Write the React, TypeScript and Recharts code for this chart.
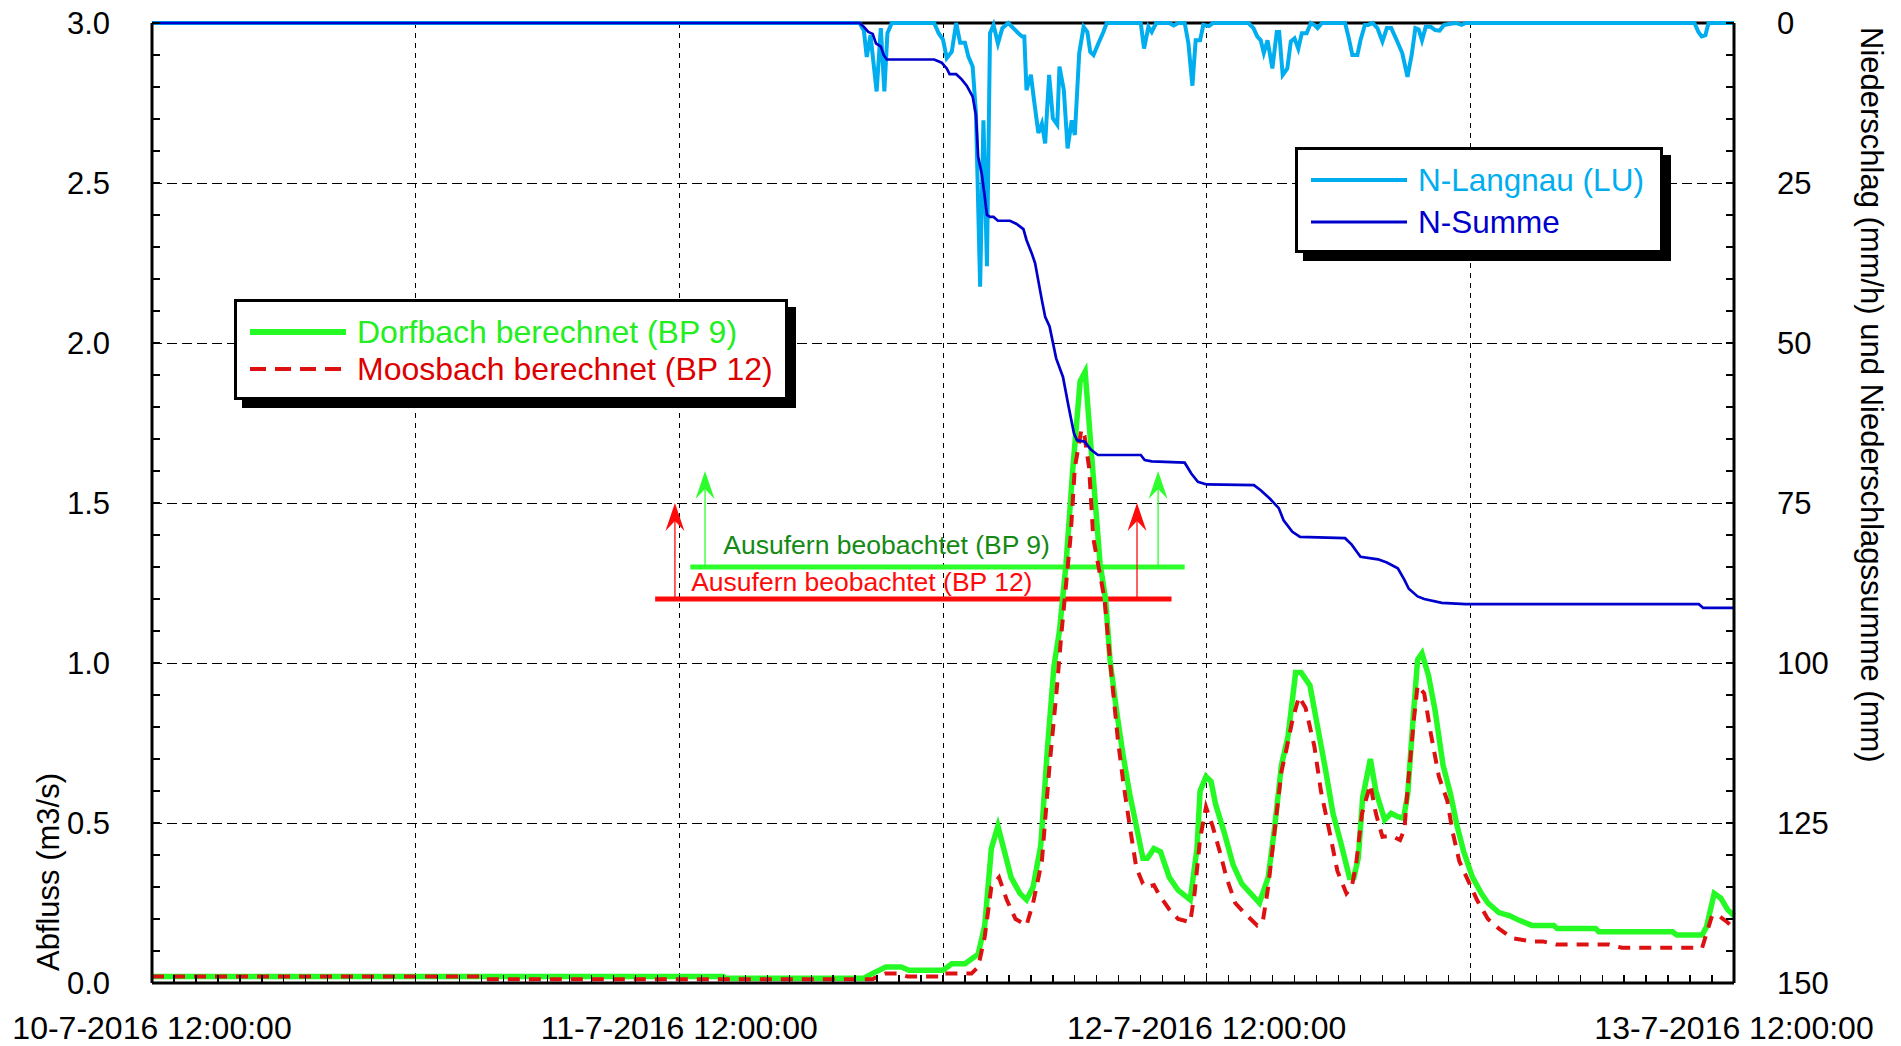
import React from "react";
import { LineChart, Line, XAxis, YAxis, CartesianGrid, ReferenceLine } from "recharts";

const FONT = '"Liberation Sans", Arial, Helvetica, sans-serif';

// time axis: hours since 10-7-2016 12:00:00
const dateTickHours = [0, 24, 48, 72];
const dateTickLabels = ["10-7-2016 12:00:00", "11-7-2016 12:00:00", "12-7-2016 12:00:00", "13-7-2016 12:00:00"];
const hourTicks = Array.from({ length: 73 }, (_, i) => i);
const gridHours = [12, 24, 36, 48, 60];

// left axis: Abfluss (m3/s)
const abflussLabelTicks = [0, 0.5, 1, 1.5, 2, 2.5, 3];
const abflussMinorTicks = Array.from({ length: 31 }, (_, i) => Math.round(i) / 10);
const gridAbfluss = [0.5, 1, 1.5, 2, 2.5];

// right axis: Niederschlag (mm/h) / Niederschlagssumme (mm)
const niederLabelTicks = [0, 25, 50, 75, 100, 125, 150];
const niederMinorTicks = Array.from({ length: 31 }, (_, i) => i * 5);

const leftTitle = "Abfluss (m3/s)";
const rightTitle = "Niederschlag (mm/h) und Niederschlagssumme (mm)";
const nameDorf = "Dorfbach berechnet (BP 9)";
const nameMoos = "Moosbach berechnet (BP 12)";
const nameLang = "N-Langnau (LU)";
const nameSumme = "N-Summe";

// [hour, m3/s]
const dorfbach: [number, number][] = [
  [0, 0.02], [26.0, 0.02], [26.1, 0.015], [32.4, 0.015], [32.8, 0.03], [33.4, 0.05], [34.1, 0.05], [34.45, 0.04],
  [36.0, 0.04], [36.4, 0.06], [37.0, 0.06], [37.6, 0.09], [37.9, 0.18], [38.2, 0.42], [38.5, 0.49], [38.8, 0.41],
  [39.1, 0.33], [39.5, 0.28], [39.8, 0.26], [40.1, 0.30], [40.45, 0.43], [40.75, 0.73], [41.05, 0.99], [41.3, 1.1],
  [41.6, 1.31], [41.9, 1.6], [42.24, 1.88], [42.47, 1.91], [42.74, 1.67], [43.15, 1.31], [43.4, 1.2], [43.6, 1.01],
  [43.9, 0.85], [44.2, 0.71], [44.5, 0.59], [44.8, 0.49], [45.1, 0.39], [45.3, 0.39], [45.6, 0.42], [45.9, 0.41],
  [46.3, 0.33], [46.7, 0.29], [47.25, 0.26], [47.56, 0.42], [47.7, 0.6], [47.97, 0.645], [48.2, 0.63], [48.4, 0.56],
  [48.8, 0.47], [49.2, 0.37], [49.6, 0.31], [50.0, 0.28], [50.4, 0.25], [50.8, 0.33], [51.1, 0.49], [51.4, 0.68],
  [51.7, 0.77], [52.05, 0.97], [52.3, 0.97], [52.7, 0.93], [53.05, 0.8], [53.4, 0.67], [53.75, 0.53], [54.1, 0.44],
  [54.5, 0.33], [54.7, 0.33], [54.9, 0.39], [55.1, 0.58], [55.45, 0.7], [55.7, 0.6], [56.1, 0.51], [56.4, 0.53],
  [56.7, 0.52], [56.96, 0.515], [57.15, 0.59], [57.4, 0.83], [57.6, 1.01], [57.8, 1.03], [58.1, 0.96], [58.4, 0.85],
  [58.76, 0.68], [59.1, 0.59], [59.4, 0.49], [59.7, 0.41], [60.1, 0.33], [60.5, 0.28], [60.8, 0.25], [61.3, 0.22],
  [61.8, 0.21], [62.25, 0.195], [62.8, 0.18], [63.8, 0.18], [63.95, 0.17], [65.7, 0.17], [65.85, 0.16], [69.2, 0.16],
  [69.4, 0.15], [70.55, 0.15], [70.75, 0.176], [71.1, 0.28], [71.4, 0.265], [71.7, 0.23], [72, 0.21],
];

// [hour, m3/s]
const moosbach: [number, number][] = [
  [0, 0.02], [15.0, 0.02], [15.1, 0.012], [32.8, 0.012], [33.0, 0.02], [33.4, 0.03], [33.9, 0.03], [34.4, 0.02],
  [35.9, 0.02], [36.0, 0.03], [37.3, 0.03], [37.6, 0.05], [37.9, 0.145], [38.2, 0.3], [38.55, 0.33], [38.9, 0.26],
  [39.3, 0.2], [39.8, 0.18], [40.1, 0.25], [40.5, 0.38], [40.85, 0.68], [41.16, 0.905], [41.4, 1.1], [41.8, 1.39],
  [42.0, 1.61], [42.3, 1.73], [42.44, 1.71], [42.65, 1.61], [42.84, 1.39], [43.35, 1.2], [43.56, 1.04], [43.7, 0.94],
  [43.96, 0.76], [44.2, 0.63], [44.5, 0.49], [44.8, 0.36], [45.1, 0.31], [45.3, 0.3], [45.6, 0.306], [45.8, 0.28],
  [46.3, 0.23], [46.7, 0.2], [47.25, 0.19], [47.45, 0.28], [47.7, 0.45], [47.97, 0.55], [48.27, 0.49], [48.6, 0.41],
  [48.9, 0.33], [49.3, 0.25], [49.7, 0.22], [50.3, 0.18], [50.55, 0.19], [50.8, 0.3], [51.1, 0.48], [51.4, 0.66],
  [51.6, 0.72], [51.9, 0.82], [52.2, 0.895], [52.5, 0.86], [52.9, 0.74], [53.2, 0.6], [53.6, 0.47], [53.95, 0.35],
  [54.36, 0.28], [54.6, 0.3], [54.8, 0.37], [55.07, 0.53], [55.45, 0.62], [55.7, 0.53], [56.0, 0.457], [56.4, 0.46],
  [56.8, 0.447], [57.0, 0.48], [57.15, 0.61], [57.44, 0.83], [57.6, 0.93], [57.9, 0.905], [58.2, 0.78], [58.57, 0.645],
  [58.95, 0.57], [59.2, 0.47], [59.5, 0.38], [59.9, 0.32], [60.3, 0.26], [60.8, 0.2], [61.3, 0.17], [61.9, 0.14],
  [62.8, 0.13], [63.3, 0.13], [63.9, 0.12], [66.3, 0.12], [66.9, 0.11], [70.55, 0.11], [70.75, 0.155], [71.0, 0.21],
  [71.3, 0.21], [71.7, 0.19], [72, 0.17],
];

// [hour, mm/h]
const langnau: [number, number][] = [
  [0, 0], [32.2, 0], [32.4, 1.2], [32.53, 5.3], [32.7, 1.9], [32.98, 10.7], [33.17, 0.8], [33.33, 10.7], [33.47, 1.6],
  [33.67, 0], [35.6, 0], [35.8, 1.6], [36.0, 2.6], [36.17, 5.5], [36.4, 4.5], [36.6, 0], [36.78, 3.1], [37.0, 3.1],
  [37.16, 5.3], [37.35, 6.8], [37.5, 14.1], [37.69, 41.2], [37.84, 15.2], [38.0, 38.0], [38.14, 1.6], [38.3, 0.3],
  [38.5, 3.2], [38.7, 0.8], [38.97, 0], [39.2, 0.8], [39.43, 1.6], [39.6, 2.1], [39.7, 2.1], [39.8, 10.5], [40.0, 8.1],
  [40.14, 12.0], [40.34, 17.2], [40.5, 15.7], [40.65, 18.8], [40.83, 8.1], [41.0, 14.9], [41.2, 15.9], [41.3, 6.8],
  [41.5, 10.5], [41.67, 19.6], [41.86, 15.2], [42.0, 17.5], [42.2, 4.7], [42.4, 0.6], [42.57, 1.4], [42.7, 4.5],
  [42.85, 5.0], [43.07, 3.2], [43.3, 1.4], [43.45, 0], [45.0, 0], [45.15, 4.0], [45.35, 0.6], [45.5, 1.4], [45.7, 0],
  [46.3, 0], [46.5, 0.4], [46.7, 0], [47.0, 0], [47.17, 3.2], [47.35, 9.8], [47.5, 2.7], [47.7, 2.7], [47.85, 0.3],
  [48.1, 0.5], [48.3, 0], [49.9, 0], [50.13, 0.8], [50.3, 2.1], [50.46, 2.7], [50.6, 4.7], [50.77, 2.7], [50.99, 7.1],
  [51.19, 1.4], [51.3, 1.4], [51.46, 8.1], [51.67, 7.1], [51.83, 2.9], [52.0, 2.4], [52.17, 4.0], [52.33, 1.6],
  [52.55, 1.6], [52.74, 0], [52.9, 0.3], [53.05, 0.8], [53.25, 0], [54.3, 0], [54.45, 2.1], [54.63, 5.0], [54.86, 5.0],
  [55.0, 2.7], [55.2, 0.3], [55.35, 0.3], [55.55, 0], [55.77, 0.8], [56.0, 2.9], [56.2, 0.8], [56.4, 0.8], [56.65, 2.7],
  [56.9, 4.7], [57.14, 8.4], [57.33, 5.0], [57.5, 0.8], [57.65, 1.0], [57.8, 2.7], [57.97, 0.6], [58.2, 0.6],
  [58.4, 1.1], [58.6, 1.2], [58.8, 0.3], [59.3, 0], [59.45, 0.1], [59.6, 0.3], [59.8, 0], [70.2, 0], [70.38, 1.4],
  [70.53, 2.1], [70.7, 1.9], [70.84, 0], [72, 0],
];

// [hour, mm]
const summe: [number, number][] = [
  [0, 0], [32.2, 0], [32.4, 0.6], [32.6, 1.4], [32.8, 1.7], [32.95, 3.2], [33.17, 3.7], [33.3, 5.0], [33.44, 5.7],
  [35.6, 5.7], [35.94, 6.2], [36.17, 7.1], [36.3, 8.0], [36.6, 8.0], [36.85, 8.8], [37.08, 9.8], [37.35, 11.5],
  [37.5, 14.4], [37.6, 20.9], [37.76, 23.5], [37.88, 26.6], [38.0, 30.0], [38.14, 30.3], [38.3, 30.3], [38.5, 30.9],
  [39.05, 30.9], [39.35, 31.4], [39.66, 32.2], [39.8, 33.9], [40.04, 36.0], [40.19, 37.5], [40.5, 43.3], [40.65, 45.9],
  [40.85, 47.4], [41.15, 52.4], [41.46, 55.3], [41.72, 60.0], [41.96, 64.1], [42.1, 65.2], [42.44, 65.4], [42.74, 66.7],
  [43.05, 67.5], [45.0, 67.5], [45.18, 68.3], [45.5, 68.5], [47.0, 68.7], [47.3, 70.4], [47.6, 71.7], [48.0, 72.1],
  [50.15, 72.2], [50.46, 73.0], [50.87, 74.3], [51.28, 75.8], [51.5, 77.7], [51.9, 79.5], [52.25, 80.3], [54.3, 80.5],
  [54.6, 81.5], [55.0, 83.4], [55.8, 83.8], [56.2, 84.3], [56.7, 85.2], [57.0, 87.0], [57.2, 88.4], [57.6, 89.6],
  [57.9, 90.0], [58.7, 90.6], [59.8, 90.8], [70.4, 90.8], [70.6, 91.4], [72, 91.4],
];

// observed overbank flow markers
const ausufernLabels = ["Ausufern beobachtet (BP 9)", "Ausufern beobachtet (BP 12)"];
const ausufernLevels = [1.3, 1.2];
const ausufernFrom = [24.5, 22.9];
const ausufernTo = [47.0, 46.4];
const ausufernArrowHours = [[25.17, 45.79], [23.8, 44.83]];
const ausufernArrowTop = [1.6, 1.5];

const GREEN = "#25fa25";
const RED = "#dd1111";
const CYAN = "#00aeef";
const BLUE = "#0000cc";
const ANN_COLORS = ["#2cff2c", "#ff0a0a"];
const ANN_TEXT = ["#138a13", "#ff0a0a"];

const toData = (pairs: [number, number][]) => pairs.map(([t, v]) => ({ t, v }));

function XTick(props: any) {
  const { x, y, payload } = props;
  const v = payload.value;
  const idx = dateTickHours.indexOf(v);
  return (
    <g>
      <line x1={x} y1={y} x2={x} y2={y - 8} stroke="#000" strokeWidth={1.3} shapeRendering="crispEdges" />
      {idx >= 0 && (
        <text x={x} y={y + 56} textAnchor="middle" fontSize={32} fontFamily={FONT} fill="#000">
          {dateTickLabels[idx]}
        </text>
      )}
    </g>
  );
}

function QTick(props: any) {
  const { x, y, payload } = props;
  const v = payload.value;
  const isLabel = abflussLabelTicks.some((t) => Math.abs(t - v) < 1e-6);
  return (
    <g>
      <line x1={x} y1={y} x2={x + 8} y2={y} stroke="#000" strokeWidth={1.3} shapeRendering="crispEdges" />
      {isLabel && (
        <text x={x - 42} y={y} textAnchor="end" dominantBaseline="central" fontSize={31} fontFamily={FONT} fill="#000">
          {v.toFixed(1)}
        </text>
      )}
    </g>
  );
}

function NTick(props: any) {
  const { x, y, payload } = props;
  const v = payload.value;
  const isLabel = niederLabelTicks.includes(v);
  return (
    <g>
      <line x1={x} y1={y} x2={x - 8} y2={y} stroke="#000" strokeWidth={1.3} shapeRendering="crispEdges" />
      {isLabel && (
        <text x={x + 43} y={y} textAnchor="start" dominantBaseline="central" fontSize={31} fontFamily={FONT} fill="#000">
          {String(v)}
        </text>
      )}
    </g>
  );
}

const arrowShape = (color: string) => (p: any) => {
  const { x1, y1, x2, y2 } = p;
  const tipX = x2;
  const tipY = Math.min(y1, y2);
  const baseY = Math.max(y1, y2);
  return (
    <g>
      <line x1={tipX} y1={baseY} x2={tipX} y2={tipY + 12} stroke={color} strokeWidth={1.3} />
      <polygon
        points={`${tipX},${tipY} ${tipX - 9.5},${tipY + 28} ${tipX},${tipY + 18} ${tipX + 9.5},${tipY + 28}`}
        fill={color}
      />
    </g>
  );
};

const legendBox = (left: number, top: number, width: number, height: number): React.CSSProperties => ({
  position: "absolute",
  left,
  top,
  width,
  height,
  boxSizing: "border-box",
  border: "3px solid #000",
  background: "#fff",
  boxShadow: "8px 8px 0 #000",
  fontFamily: FONT,
});

function LegendRow(props: {
  top: number;
  color: string;
  text: string;
  textColor: string;
  width: number;
  size: number;
  dash?: string;
}) {
  const { top, color, text, textColor, width, dash, size } = props;
  return (
    <>
      <svg style={{ position: "absolute", left: 13, top: top - 10, overflow: "visible" }} width={98} height={20}>
        <line x1={0} y1={10} x2={96} y2={10} stroke={color} strokeWidth={width} strokeDasharray={dash} />
      </svg>
      <div
        style={{
          position: "absolute",
          left: 120,
          top: top - 20,
          height: 40,
          lineHeight: "40px",
          fontSize: size,
          color: textColor,
          whiteSpace: "nowrap",
        }}
      >
        {text}
      </div>
    </>
  );
}

export default function App() {
  return (
    <div style={{ position: "absolute", left: 0, top: 0, width: 1901, height: 1046, background: "#fff" }}>
      <LineChart width={1901} height={1046} margin={{ top: 23, right: 0, bottom: 0, left: 0 }} style={{ fontFamily: FONT }}>
        <XAxis
          xAxisId="t"
          type="number"
          dataKey="t"
          domain={[0, 72]}
          ticks={hourTicks}
          interval={0}
          height={63}
          tickSize={0}
          tickMargin={0}
          tickLine={false}
          axisLine={{ stroke: "#000", strokeWidth: 3 }}
          tick={<XTick />}
        />
        <YAxis
          yAxisId="q"
          orientation="left"
          type="number"
          width={152}
          domain={[0, 3]}
          ticks={abflussMinorTicks}
          interval={0}
          tickSize={0}
          tickMargin={0}
          tickLine={false}
          axisLine={{ stroke: "#000", strokeWidth: 3 }}
          tick={<QTick />}
          label={{
            content: () => (
              <text
                x={48}
                y={872}
                transform="rotate(-90, 48, 872)"
                textAnchor="middle"
                dominantBaseline="central"
                fontSize={31}
                fontFamily={FONT}
                fill="#000"
              >
                {leftTitle}
              </text>
            ),
          }}
        />
        <YAxis
          yAxisId="n"
          orientation="right"
          type="number"
          width={167}
          domain={[0, 150]}
          reversed
          ticks={niederMinorTicks}
          interval={0}
          tickSize={0}
          tickMargin={0}
          tickLine={false}
          axisLine={{ stroke: "#000", strokeWidth: 3 }}
          tick={<NTick />}
          label={{
            content: () => (
              <text
                x={1871}
                y={27}
                transform="rotate(90, 1871, 27)"
                textAnchor="start"
                dominantBaseline="central"
                fontSize={31}
                fontFamily={FONT}
                fill="#000"
              >
                {rightTitle}
              </text>
            ),
          }}
        />
        <CartesianGrid
          xAxisId="t"
          yAxisId="q"
          vertical={false}
          horizontalValues={gridAbfluss}
          stroke="#000"
          strokeWidth={1}
          strokeDasharray="10 5"
          shapeRendering="crispEdges"
        />
        <CartesianGrid
          xAxisId="t"
          yAxisId="q"
          horizontal={false}
          verticalValues={gridHours}
          stroke="#000"
          strokeWidth={1}
          strokeDasharray="5 5"
          shapeRendering="crispEdges"
        />
        <ReferenceLine xAxisId="t" yAxisId="q" y={3} stroke="#000" strokeWidth={3} />

        {ausufernLevels.map((lvl, i) => (
          <ReferenceLine
            key={"a" + i}
            xAxisId="t"
            yAxisId="q"
            segment={[
              { x: ausufernFrom[i], y: lvl },
              { x: ausufernTo[i], y: lvl },
            ]}
            stroke={ANN_COLORS[i]}
            strokeWidth={5}
            label={(p: any) => (
              <text
                x={p.viewBox.x + (i === 0 ? 33 : 36)}
                y={p.viewBox.y - (i === 0 ? 13 : 8)}
                fontSize={26.5}
                fontFamily={FONT}
                fill={ANN_TEXT[i]}
              >
                {ausufernLabels[i]}
              </text>
            )}
          />
        ))}
        {ausufernArrowHours.map((hrs, i) =>
          hrs.map((h, j) => (
            <ReferenceLine
              key={"ar" + i + "-" + j}
              xAxisId="t"
              yAxisId="q"
              segment={[
                { x: h, y: ausufernLevels[i] },
                { x: h, y: ausufernArrowTop[i] },
              ]}
              stroke={ANN_COLORS[i]}
              shape={arrowShape(ANN_COLORS[i])}
            />
          ))
        )}

        <Line
          xAxisId="t"
          yAxisId="q"
          data={toData(dorfbach)}
          dataKey="v"
          name={nameDorf}
          type="linear"
          stroke={GREEN}
          strokeWidth={5.5}
          dot={false}
          activeDot={false}
          isAnimationActive={false}
        />
        <Line
          xAxisId="t"
          yAxisId="q"
          data={toData(moosbach)}
          dataKey="v"
          name={nameMoos}
          type="linear"
          stroke={RED}
          strokeWidth={4}
          strokeDasharray="12 9"
          dot={false}
          activeDot={false}
          isAnimationActive={false}
        />
        <Line
          xAxisId="t"
          yAxisId="n"
          data={toData(langnau)}
          dataKey="v"
          name={nameLang}
          type="linear"
          stroke={CYAN}
          strokeWidth={4}
          dot={false}
          activeDot={false}
          isAnimationActive={false}
        />
        <Line
          xAxisId="t"
          yAxisId="n"
          data={toData(summe)}
          dataKey="v"
          name={nameSumme}
          type="linear"
          stroke={BLUE}
          strokeWidth={2.7}
          dot={false}
          activeDot={false}
          isAnimationActive={false}
        />
      </LineChart>

      <div style={legendBox(234, 299, 554, 101)}>
        <LegendRow top={30} color={GREEN} width={6} size={32} text={nameDorf} textColor="#22ee22" />
        <LegendRow top={67} color={RED} width={4} size={32} dash="16 9" text={nameMoos} textColor="#dd0000" />
      </div>
      <div style={legendBox(1295, 147, 368, 106)}>
        <LegendRow top={30} color={CYAN} width={4} size={31.5} text={nameLang} textColor={CYAN} />
        <LegendRow top={72} color={BLUE} width={3} size={31.5} text={nameSumme} textColor={BLUE} />
      </div>
    </div>
  );
}
